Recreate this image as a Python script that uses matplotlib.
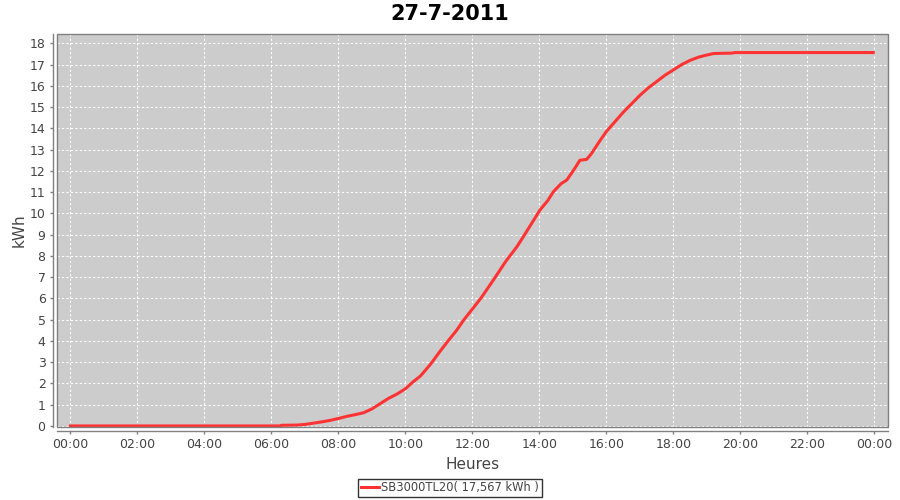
import matplotlib
matplotlib.use("Agg")
import matplotlib.pyplot as plt
from matplotlib.patches import Rectangle

title = "27-7-2011"
series_name = "SB3000TL20( 17,567 kWh )"
x_label = "Heures"
y_label = "kWh"

hours = [0.0, 6.25, 6.3, 6.75, 7.0, 7.25, 7.5, 7.75, 8.0, 8.25, 8.5, 8.75,
         9.0, 9.25, 9.5, 9.75, 10.0, 10.25, 10.45, 10.75, 11.03, 11.25, 11.53,
         11.75, 12.0, 12.25, 12.63, 13.0, 13.33, 13.6, 14.02, 14.25, 14.42,
         14.65, 14.82, 15.05, 15.21, 15.41, 15.55, 15.8, 16.0, 16.25, 16.5,
         16.75, 17.0, 17.25, 17.5, 17.75, 18.0, 18.25, 18.5, 18.75, 19.0,
         19.2, 19.39, 19.74, 19.84, 23.97]
kwh = [0.0, 0.0, 0.03, 0.04, 0.07, 0.13, 0.19, 0.26, 0.35, 0.45, 0.53, 0.62,
       0.80, 1.05, 1.3, 1.5, 1.75, 2.1, 2.35, 2.9, 3.5, 3.95, 4.5,
       5.0, 5.5, 6.0, 6.87, 7.75, 8.43, 9.1, 10.16, 10.6, 11.02,
       11.4, 11.57, 12.1, 12.5, 12.54, 12.8, 13.4, 13.85, 14.3, 14.75,
       15.15, 15.55, 15.9, 16.2, 16.5, 16.75, 17.0, 17.2, 17.35, 17.45,
       17.52, 17.53, 17.54, 17.567, 17.567]

x_ticks = list(range(0, 25, 2))
x_tick_labels = ["%02d:00" % (h % 24) for h in x_ticks]
y_ticks = list(range(0, 19))

fig = plt.figure(figsize=(9, 5), dpi=100)
ax = fig.add_axes([0.063, 0.146, 0.9237, 0.786])
ax.set_facecolor("#cccccc")

ax.plot(hours, kwh, color="#ff3333", lw=2.2, label=series_name, zorder=3)

ax.set_xlim(-0.41, 24.41)
ax.set_ylim(-0.05, 18.44)
ax.set_xticks(x_ticks)
ax.set_xticklabels(x_tick_labels)
ax.set_yticks(y_ticks)

ax.grid(True, color="white", linestyle=(0, (2, 2)), linewidth=0.8)
ax.set_axisbelow(True)

for s in ["top", "right"]:
    ax.spines[s].set_visible(False)
for s in ["left", "bottom"]:
    ax.spines[s].set_position(("outward", 3))
    ax.spines[s].set_color("#808080")
    ax.spines[s].set_linewidth(1.0)
ax.add_patch(Rectangle((0, 0), 1, 1, transform=ax.transAxes, fill=False,
                       edgecolor="#808080", linewidth=1.0, clip_on=False, zorder=4))

ax.tick_params(axis="both", colors="#808080", labelcolor="#444444",
               labelsize=9, length=2, width=1, direction="out", pad=3)

ax.set_xlabel(x_label, fontsize=11, color="#444444", labelpad=4)
ax.set_ylabel(y_label, fontsize=11, color="#444444", labelpad=2)
fig.suptitle(title, fontsize=15, fontweight="bold", y=0.993)

leg = fig.legend(loc="center", bbox_to_anchor=(0.5, 0.024), fontsize=8.3,
                 frameon=True, fancybox=False, handlelength=1.6,
                 handletextpad=0.2, borderpad=0.25, borderaxespad=0)
leg.get_frame().set_edgecolor("black")
leg.get_frame().set_linewidth(1.0)
for t in leg.get_texts():
    t.set_color("#444444")

fig.savefig("out.png", dpi=100)
